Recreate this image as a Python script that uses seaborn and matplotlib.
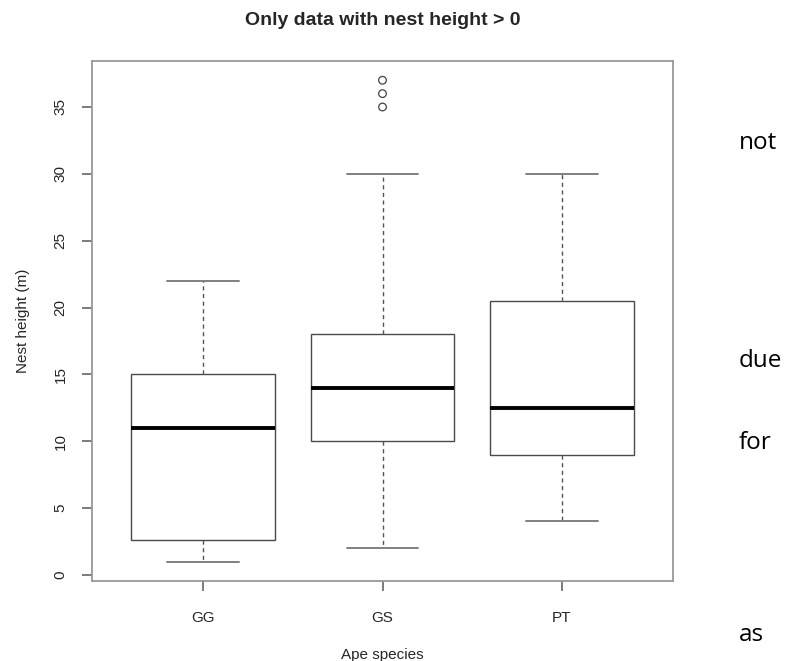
import matplotlib
matplotlib.use("Agg")
import matplotlib.pyplot as plt
import seaborn as sns
import pandas as pd

# Five-number summaries (whisker low, Q1, median, Q3, whisker high)
species = ["GG", "GS", "PT"]
whisker_low = [1, 2, 4]
q1 = [2.6, 10, 9]
median = [11, 14, 12.5]
q3 = [15, 18, 20.5]
whisker_high = [22, 30, 30]
outlier_species = ["GS", "GS", "GS"]
outlier_values = [35, 36, 37]
y_ticks = [0, 5, 10, 15, 20, 25, 30, 35]
side_words = ["not", "due", "for", "as"]

rows = []
for i, sp in enumerate(species):
    for v in (whisker_low[i], q1[i], median[i], q3[i], whisker_high[i]):
        rows.append({"species": sp, "height": v})
df = pd.DataFrame(rows)
out_df = pd.DataFrame({"species": outlier_species, "height": outlier_values})

sns.set_theme(style="white")
plt.rcParams["font.family"] = ["Liberation Sans", "DejaVu Sans"]

fig = plt.figure(figsize=(7.98, 6.61), dpi=100)
ax = fig.add_axes([92 / 798, 80 / 661, (673 - 92) / 798, (581 - 61) / 661])

box_col = "#4a4a4a"
sns.boxplot(data=df, x="species", y="height", order=species, whis=(0, 100),
            width=0.8, color="white", linecolor=box_col, linewidth=1.0,
            showfliers=False, ax=ax,
            medianprops=dict(color="black", linewidth=2.8),
            whiskerprops=dict(linestyle=(0, (3, 2.5)), color="#555555", linewidth=1.0),
            capprops=dict(color="#808080", linewidth=1.4))
sns.stripplot(data=out_df, x="species", y="height", order=species, jitter=False,
              marker="o", size=5.5, color="none", edgecolor="#444444", linewidth=0.9,
              ax=ax)

ax.set_xlim(-0.62, 2.62)
ax.set_ylim(-0.45, 38.44)
ax.set_yticks(y_ticks)
ax.set_yticklabels([str(t) for t in y_ticks], rotation=90, va="center", fontsize=11)
ax.set_xticks(range(len(species)))
ax.set_xticklabels(species, fontsize=11)
ax.tick_params(axis="both", direction="out", length=7.5, width=1.2, color="#666666",
               left=True, bottom=True, pad=10)
ax.tick_params(axis="x", pad=14)
for s in ax.spines.values():
    s.set_visible(True)
    s.set_color("#999999")
    s.set_linewidth(1.3)

ax.set_xlabel("Ape species", fontsize=11, labelpad=17)
ax.set_ylabel("Nest height (m)", fontsize=11, labelpad=17)
ax.set_title("Only data with nest height > 0", fontsize=14, fontweight="bold", pad=26)

word_y = [143, 361, 443, 635]
for w, yp in zip(side_words, word_y):
    fig.text(739 / 798, 1 - yp / 661, w, fontsize=17.5, va="center", ha="left",
             family=["Open Sans", "DejaVu Sans"], color="black")

fig.savefig("out.png", dpi=100)
